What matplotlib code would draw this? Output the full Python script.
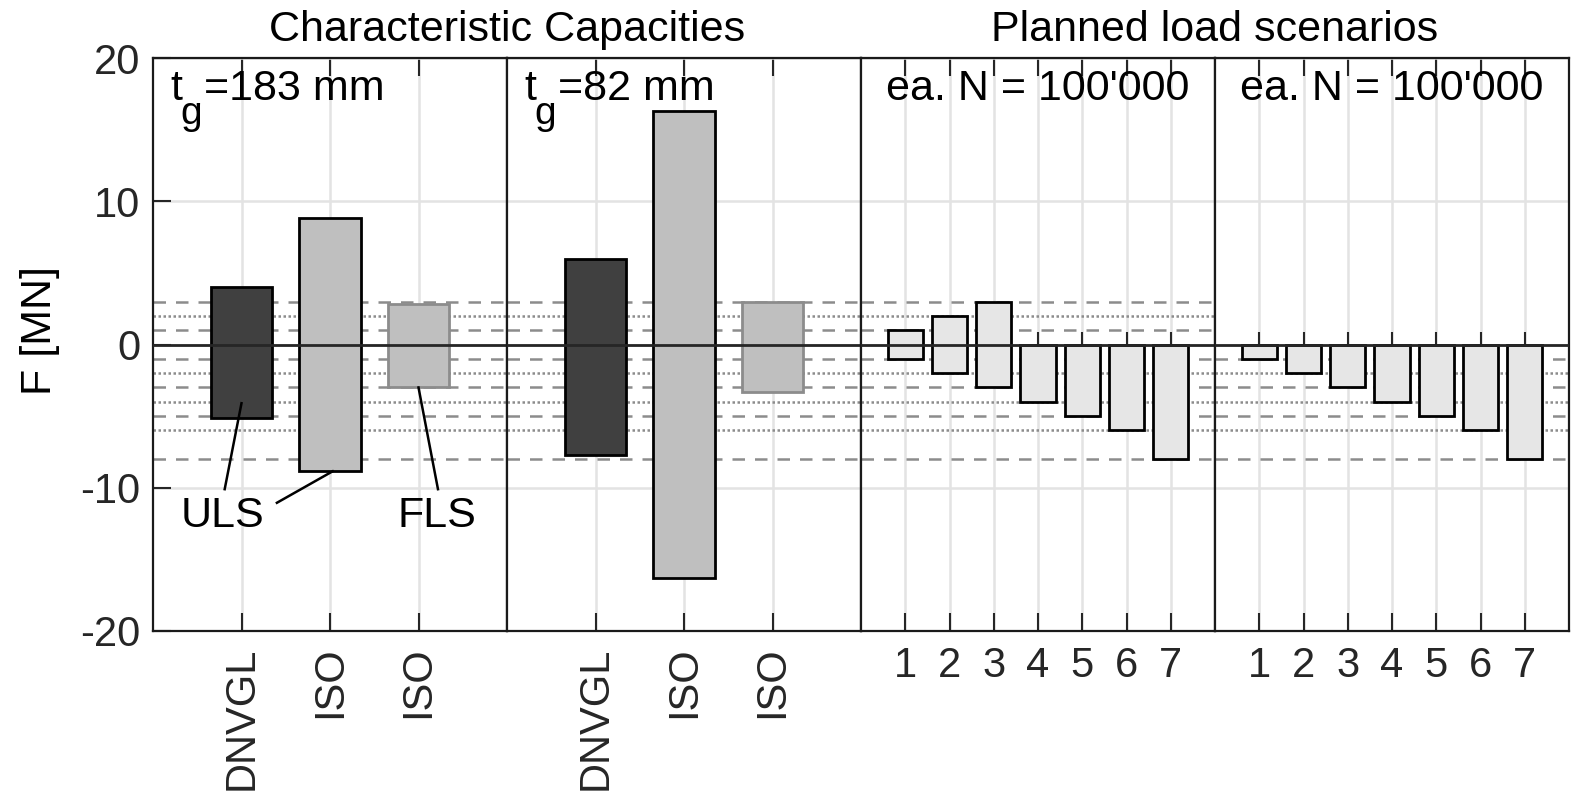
import matplotlib.pyplot as plt
import numpy as np

plt.rcParams["font.family"] = ["Liberation Sans", "DejaVu Sans"]
plt.rcParams["axes.unicode_minus"] = False

# Characteristic capacities (ULS / FLS), two grout thicknesses
cap_labels = ["DNVGL", "ISO", "ISO"]
cap_183_top = [4.0, 8.8, 2.85]
cap_183_bottom = [-5.1, -8.8, -3.0]
cap_82_top = [6.0, 16.3, 3.0]
cap_82_bottom = [-7.7, -16.3, -3.3]
cap_fill = ["#404040", "#bfbfbf", "#bfbfbf"]
cap_edge = ["black", "black", "#8c8c8c"]

# Planned load scenarios, each N = 100'000 cycles
scenario_labels = ["1", "2", "3", "4", "5", "6", "7"]
load_a_top = [1, 2, 3, 0, 0, 0, 0]
load_a_bottom = [-1, -2, -3, -4, -5, -6, -8]
load_b_top = [0, 0, 0, 0, 0, 0, 0]
load_b_bottom = [-1, -2, -3, -4, -5, -6, -8]

# reference load levels drawn across the panels
dashed_levels = [3, 1, -1, -3, -5, -8]
dotted_levels = [2, -2, -4, -6]

FONTSIZE = 30
TEXT_FONTSIZE = 31
W, H = 1574, 802
LEFT, BOTTOM, PANEL_W, PANEL_H = 153, 171, 354, 573

fig = plt.figure(figsize=(W / 100, H / 100), dpi=100)


def get_panel(i):
    ax = fig.add_axes([(LEFT + i * PANEL_W) / W, BOTTOM / H, PANEL_W / W, PANEL_H / H])
    ax.set_ylim(-20, 20)
    ax.set_yticks([-20, -10, 0, 10, 20])
    ax.set_axisbelow(True)
    ax.grid(True, color="#e3e3e3", linewidth=1.8)
    ax.tick_params(axis="both", direction="in", length=13, width=1.5,
                   labelsize=FONTSIZE, top=True, colors="#262626")
    ax.tick_params(axis="x", pad=11)
    ax.tick_params(axis="y", pad=9, left=(i == 0), labelleft=(i == 0), right=False)
    for side in ax.spines.values():
        side.set_linewidth(1.6)
        side.set_color("#1a1a1a")
    return ax


def draw_levels(ax, only_negative=False):
    for lvl in dashed_levels:
        if only_negative and lvl > 0:
            continue
        ax.axhline(lvl, color="#8c8c8c", linestyle=(0, (5, 4)), linewidth=1.8, zorder=1)
    for lvl in dotted_levels:
        if only_negative and lvl > 0:
            continue
        ax.axhline(lvl, color="#8c8c8c", linestyle=(0, (1, 1)), linewidth=1.8, zorder=1)
    ax.axhline(0, color="#262626", linewidth=2, zorder=5)


def grout_label(ax, thickness):
    # "t" with a low subscript "g", as in the original figure
    ax.text(0.050, 0.927, "t", transform=ax.transAxes, ha="left", va="baseline",
            fontsize=TEXT_FONTSIZE)
    ax.text(0.078, 0.885, "g", transform=ax.transAxes, ha="left", va="baseline",
            fontsize=TEXT_FONTSIZE - 3)
    ax.text(0.143, 0.927, "=" + thickness, transform=ax.transAxes, ha="left",
            va="baseline", fontsize=TEXT_FONTSIZE)


def capacity_panel(ax, top, bottom, thickness):
    x = np.arange(1, len(top) + 1)
    heights = np.array(top) - np.array(bottom)
    ax.bar(x, heights, bottom=bottom, width=0.7, color=cap_fill,
           edgecolor=cap_edge, linewidth=2, zorder=3)
    ax.set_xlim(0, 4)
    ax.set_xticks(x)
    ax.set_xticklabels(cap_labels, rotation=90, va="top")
    grout_label(ax, thickness)


def load_panel(ax, top, bottom):
    x = np.arange(1, len(top) + 1)
    heights = np.array(top) - np.array(bottom)
    ax.vlines(x, 0, 0.85, color="#262626", linewidth=1.5, zorder=2)
    ax.bar(x, heights, bottom=bottom, width=0.8, color="#e6e6e6",
           edgecolor="black", linewidth=2, zorder=3)
    ax.set_xlim(0, 8)
    ax.set_xticks(x)
    ax.set_xticklabels(scenario_labels)
    ax.text(0.5, 0.927, "ea. N = 100'000", transform=ax.transAxes, ha="center",
            va="baseline", fontsize=TEXT_FONTSIZE)


ax1 = get_panel(0)
draw_levels(ax1)
capacity_panel(ax1, cap_183_top, cap_183_bottom, "183 mm")
ax1.set_ylabel("F [MN]", fontsize=TEXT_FONTSIZE)
ax1.yaxis.set_label_coords(-0.262, 0.524)

# ULS / FLS callouts
ax1.text(0.79, -12.0, "ULS", ha="center", va="center", fontsize=TEXT_FONTSIZE)
ax1.text(3.21, -12.0, "FLS", ha="center", va="center", fontsize=TEXT_FONTSIZE)
ax1.plot([0.81, 1.0], [-10.1, -4.1], color="black", linewidth=1.8, zorder=6)
ax1.plot([1.40, 2.03], [-11.05, -8.85], color="black", linewidth=1.8, zorder=6)
ax1.plot([3.22, 3.0], [-10.1, -3.0], color="black", linewidth=1.8, zorder=6)

ax2 = get_panel(1)
draw_levels(ax2)
capacity_panel(ax2, cap_82_top, cap_82_bottom, "82 mm")

ax3 = get_panel(2)
draw_levels(ax3)
load_panel(ax3, load_a_top, load_a_bottom)

ax4 = get_panel(3)
draw_levels(ax4, only_negative=True)
load_panel(ax4, load_b_top, load_b_bottom)

fig.text((LEFT + PANEL_W) / W, 1 - 30 / H, "Characteristic Capacities",
         ha="center", va="center", fontsize=TEXT_FONTSIZE)
fig.text((LEFT + 3 * PANEL_W) / W, 1 - 30 / H, "Planned load scenarios",
         ha="center", va="center", fontsize=TEXT_FONTSIZE)

plt.savefig("out.png", dpi=100)
plt.close()
